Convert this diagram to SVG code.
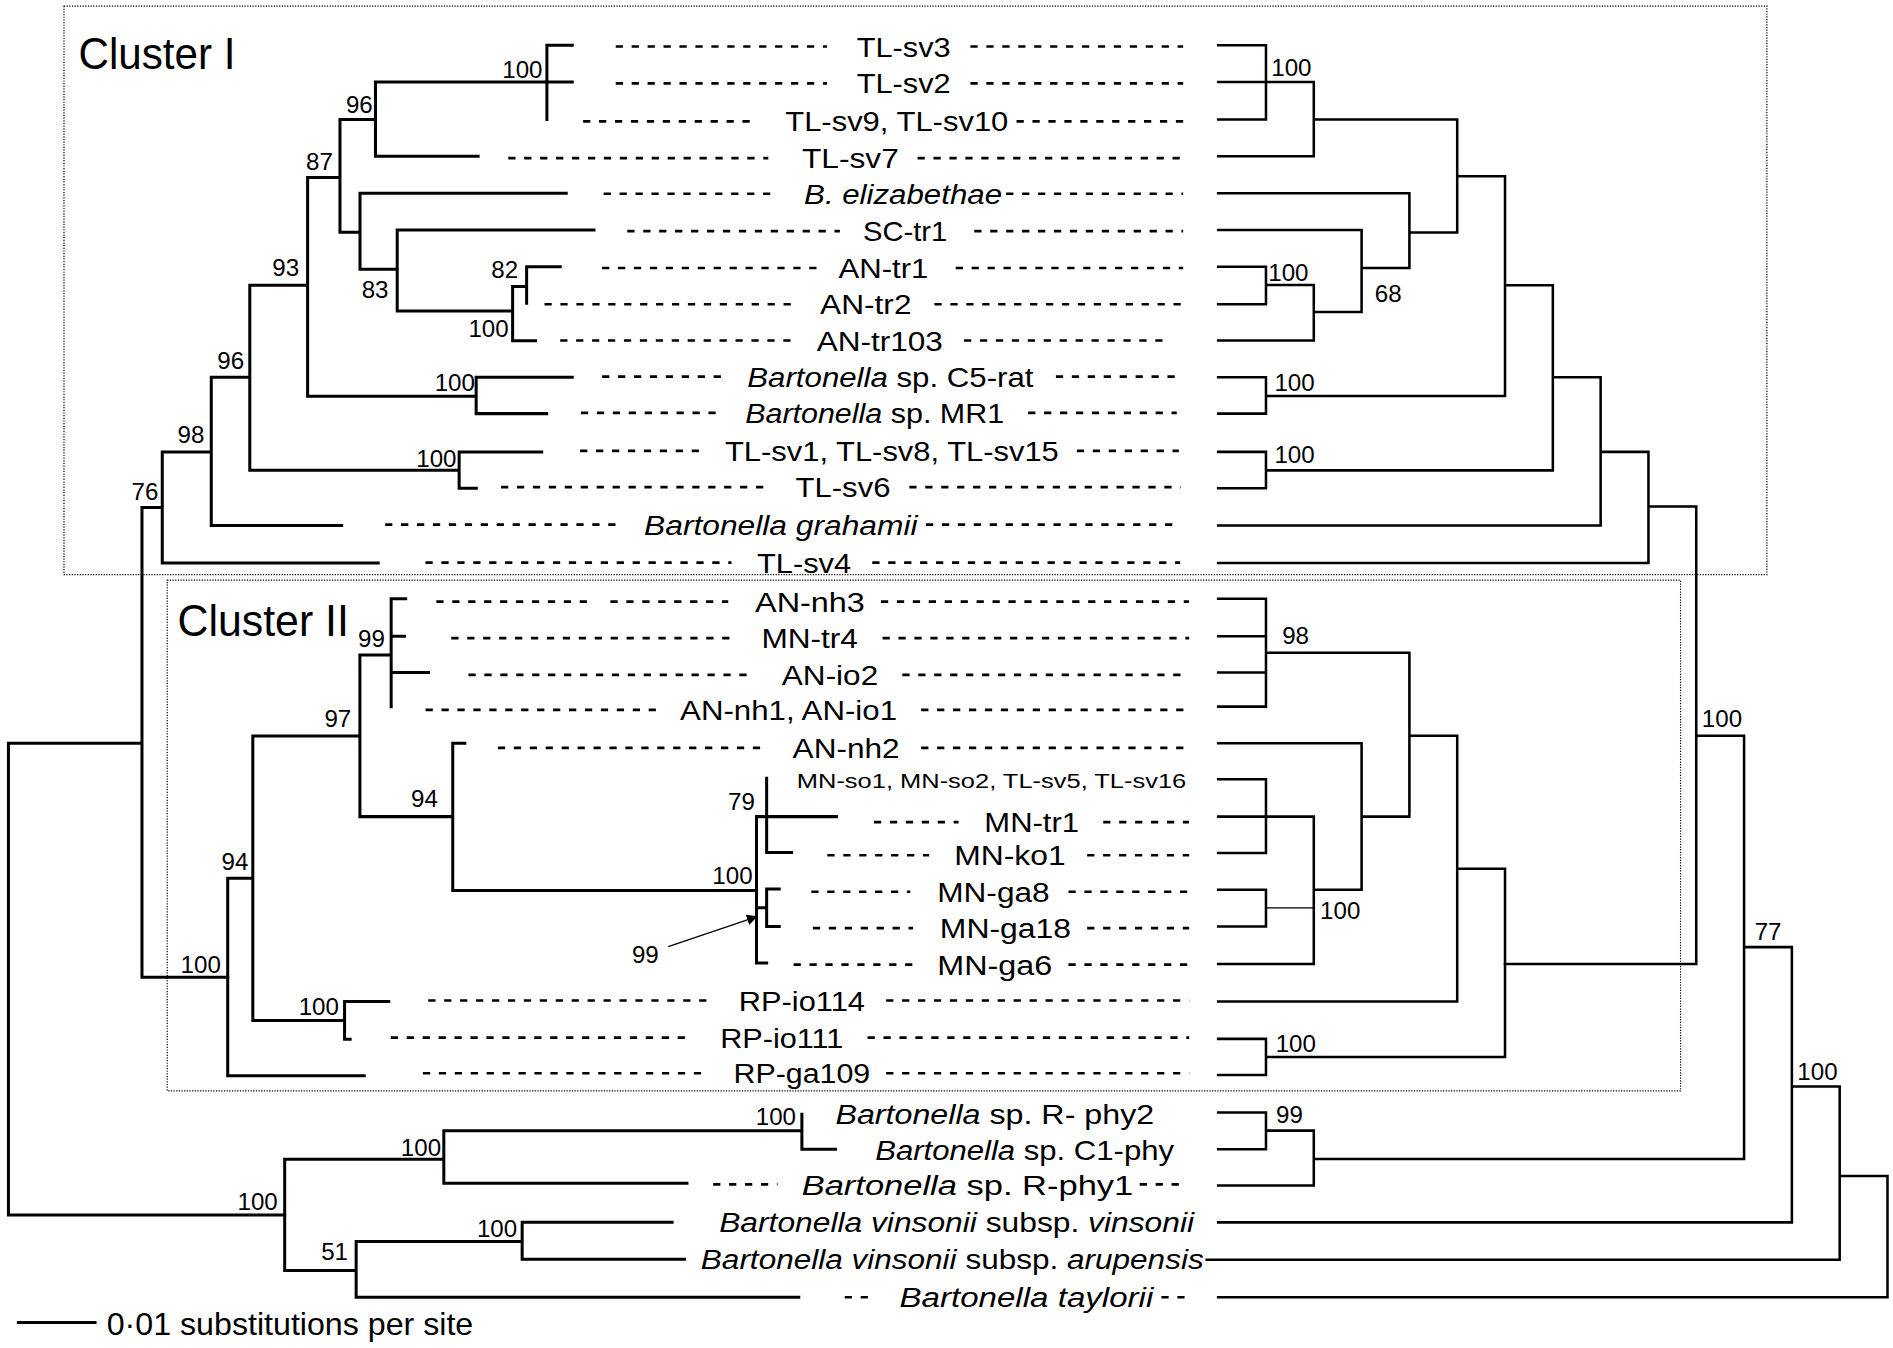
<svg xmlns="http://www.w3.org/2000/svg" width="1893" height="1348" viewBox="0 0 1893 1348">
<style>
.bg{fill:#fff}
.t{fill:none;stroke:#000;stroke-width:2.5;stroke-linecap:square;stroke-linejoin:miter}
.r{fill:none;stroke:#000;stroke-width:2.1;stroke-linecap:square;stroke-linejoin:miter}
.th{fill:none;stroke:#000;stroke-width:1.1}
.d{fill:none;stroke:#000;stroke-width:2.2;stroke-dasharray:6 7.2}
.box{fill:none;stroke:#000;stroke-width:1;stroke-dasharray:1 1.2}
text{font-family:"Liberation Sans",Arial,Helvetica,sans-serif;fill:#000}
.lb{font-size:23.5px}
.sm{font-size:16.5px}
.bs{font-size:20px}
.cl{font-size:37px}
.sc{font-size:26.5px}
.i{font-style:italic}
</style>
<defs>
<marker id="ah" viewBox="0 0 10 10" refX="10" refY="5" markerWidth="9" markerHeight="9" markerUnits="userSpaceOnUse" orient="auto">
<path d="M0,0 L10,5 L0,10 z" fill="#000"/>
</marker>
</defs>
<rect class="bg" x="0" y="0" width="1893" height="1348"/>
<g transform="scale(1.2073)">
<g id="boxes">
<rect class="box" x="53" y="5" width="1410.5" height="471"/>
<rect class="box" x="138.5" y="480.6" width="1253.5" height="423"/>
<text class="cl" x="65" y="57" textLength="130" lengthAdjust="spacingAndGlyphs">Cluster I</text>
<text class="cl" x="147" y="527" textLength="142" lengthAdjust="spacingAndGlyphs">Cluster II</text>
</g>
<g id="connectors">
<path class="t" d="M453,37.5V99M453,37.5H474M311,68H474M311,68V129.5H396M281.6,99H311M281.6,99V192.4H298.2M298.2,160V223H329M298.2,160H469M329,190.5H492M329,190.5V257.6H424.6M424.6,237.4V282.3H443.6M424.6,237.4H436.2M436.2,221V251.2M436.2,221H464M254.8,147.1H281.6M254.8,147.1V328.3H394.4M394.4,312.4V342.6H452.8M394.4,312.4H474M206.9,236.3H254.8M206.9,236.3V389.6H380.3M380.3,374.3V404.4H394.5M380.3,374.3H448.7M175,312.4H206.9M175,312.4V435.2H283M134.4,374.3H175M134.4,374.3V466.3H313.3M117.6,420.3H134.4M117.6,420.3V809.5H188.6M7,615.6H117.6M7,615.6V1006.3H235.8"/>
<path class="t" d="M188.6,727.4V891H301.7M188.6,727.4H209.4M209.4,609.6V845.3H285.4M285.4,829.5V860.8H290M285.4,829.5H322M209.4,609.6H298.1M298.1,542.5V676.4H375M298.1,542.5H324M324,496V585.3M324,496H336M324,527H335M324,557H355M375,615.6V737.6H626.6M375,615.6H385M626.6,676.4V797.7H635M626.6,676.4H692.8M635,644.7V706.2H655.6M626.6,751.8H635M635,736.4V767.5M635,736.4H645.4M635,767.5H645.4"/>
<path class="t" d="M235.8,960.2V1052.4H295M235.8,960.2H367.6M367.6,936.5V980H569M367.6,936.5H664.2M664.2,923V952H692M295,1028.4V1074.5H661.6M295,1028.4H432.5M432.5,1012.4V1043H567M432.5,1012.4H556.7"/>
<path class="r" d="M1009,37.5H1048.6V99H1009M1009,68H1088.2V129.5H1009M1088.2,99H1207M1009,160H1167.4V222M1009,190.5H1127.8V258.5M1127.8,222H1167.4M1009,221H1048.6V252H1009M1048.6,236H1088.2V282H1009M1088.2,258.5H1127.8M1167.4,192.5H1207M1207,99V192.5M1207,146H1246.6V328H1048.6M1009,312.4H1048.6V342.6H1009M1246.6,236.3H1286.2V389.6H1048.6M1009,374.3H1048.6V404.4H1009M1286.2,312.4H1325.8V435.2H1009M1325.8,374.3H1365.4V466.3H1009M1365.4,419.6H1405V798.5H1246.6"/>
<path class="r" d="M1009,496H1048.6V585.3H1009M1009,527H1048.6M1009,557H1048.6M1048.6,540.6H1167.4V676.4H1127.8M1009,615.6H1127.8V737H1088.2M1009,645.5H1048.6V706.6H1009M1009,676.4H1088.2V798.5H1009M1009,737H1048.6V767.5H1009M1167.4,609.5H1207V829.5H1009M1207,719.5H1246.6V875.5H1048.6M1009,860.5H1048.6V890.5H1009"/>
<path class="th" d="M1048.6,752H1088.2"/>
<path class="r" d="M1009,921.5H1048.6V952H1009M1048.6,936.5H1088.2V982H1009M1088.2,960H1444.6V609.5H1405M1444.6,784.5H1484.2V1012.5H1009M1484.2,900H1523.8V1043.5H999.5M1523.8,974H1563.4V1074.5H1009"/>
<line class="th" x1="553.5" y1="784" x2="627.6" y2="759" marker-end="url(#ah)"/>
</g>
<g id="bootstrap">
<text class="bs" x="416" y="65">100</text>
<text class="bs" x="286.5" y="93.6">96</text>
<text class="bs" x="253.5" y="140.8">87</text>
<text class="bs" x="225.6" y="228.4">93</text>
<text class="bs" x="299.6" y="247.1">83</text>
<text class="bs" x="407" y="230.5">82</text>
<text class="bs" x="388" y="278.8">100</text>
<text class="bs" x="360" y="323.5">100</text>
<text class="bs" x="180" y="306">96</text>
<text class="bs" x="344.8" y="387">100</text>
<text class="bs" x="147" y="367.3">98</text>
<text class="bs" x="109" y="414">76</text>
<text class="bs" x="296.6" y="535.6">99</text>
<text class="bs" x="268.7" y="601.8">97</text>
<text class="bs" x="340.5" y="668.6">94</text>
<text class="bs" x="603" y="671">79</text>
<text class="bs" x="590" y="732.6">100</text>
<text class="bs" x="523.4" y="797.6">99</text>
<text class="bs" x="183.5" y="720.5">94</text>
<text class="bs" x="149.6" y="806">100</text>
<text class="bs" x="247.4" y="840.6">100</text>
<text class="bs" x="626" y="931.8">100</text>
<text class="bs" x="332" y="957.5">100</text>
<text class="bs" x="196.7" y="1002">100</text>
<text class="bs" x="266" y="1043.6">51</text>
<text class="bs" x="395" y="1024.3">100</text>
<text class="bs" x="1053" y="62.8">100</text>
<text class="bs" x="1050.5" y="233">100</text>
<text class="bs" x="1138.7" y="250">68</text>
<text class="bs" x="1055.6" y="323.5">100</text>
<text class="bs" x="1055.6" y="383.8">100</text>
<text class="bs" x="1062" y="533.4">98</text>
<text class="bs" x="1093.4" y="761.4">100</text>
<text class="bs" x="1056.6" y="871">100</text>
<text class="bs" x="1409.6" y="601.8">100</text>
<text class="bs" x="1453.4" y="778.5">77</text>
<text class="bs" x="1488.7" y="894.6">100</text>
<text class="bs" x="1057" y="930.4">99</text>
</g>
<g id="tx-TL-sv3"><path class="d" d="M510,38.5H685M803.8,38.5H980"/><text class="lb" x="709.6" y="46.9" textLength="77.8" lengthAdjust="spacingAndGlyphs">TL-sv3</text></g>
<g id="tx-TL-sv2"><path class="d" d="M510,69H685M803.8,69H980"/><text class="lb" x="709.6" y="77.4" textLength="77.8" lengthAdjust="spacingAndGlyphs">TL-sv2</text></g>
<g id="tx-TL-sv9"><path class="d" d="M483,100.5H628M842,100.5H980"/><text class="lb" x="650.4" y="108.9" textLength="184.8" lengthAdjust="spacingAndGlyphs">TL-sv9, TL-sv10</text></g>
<g id="tx-TL-sv7"><path class="d" d="M421,131H636.4M760,131H983"/><text class="lb" x="664.3" y="139.4" textLength="80.2" lengthAdjust="spacingAndGlyphs">TL-sv7</text></g>
<g id="tx-B-elizabethae"><path class="d" d="M500,160.5H643.4M833.4,160.5H980"/><text class="lb i" x="666" y="168.9" textLength="164" lengthAdjust="spacingAndGlyphs">B. elizabethae</text></g>
<g id="tx-SC-tr1"><path class="d" d="M519.6,191.5H695.7M807,191.5H980"/><text class="lb" x="714.9" y="199.9" textLength="69.7" lengthAdjust="spacingAndGlyphs">SC-tr1</text></g>
<g id="tx-AN-tr1"><path class="d" d="M498.7,222H676.5M791.6,222H980"/><text class="lb" x="694.6" y="230.4" textLength="74.4" lengthAdjust="spacingAndGlyphs">AN-tr1</text></g>
<g id="tx-AN-tr2"><path class="d" d="M451,252H657.3M774,252H980"/><text class="lb" x="679.3" y="260.4" textLength="75.7" lengthAdjust="spacingAndGlyphs">AN-tr2</text></g>
<g id="tx-AN-tr103"><path class="d" d="M464,282H655.6M798.5,282H969.4"/><text class="lb" x="676.5" y="290.4" textLength="104.5" lengthAdjust="spacingAndGlyphs">AN-tr103</text></g>
<g id="tx-C5-rat"><path class="d" d="M498.7,312H598M874.6,312H974.7"/><text class="lb" x="619" y="320.4" textLength="237" lengthAdjust="spacingAndGlyphs"><tspan class="i">Bartonella</tspan> sp. C5-rat</text></g>
<g id="tx-MR1"><path class="d" d="M481.2,342H596.3M851.6,342H974.7"/><text class="lb" x="617.2" y="350.4" textLength="214.5" lengthAdjust="spacingAndGlyphs"><tspan class="i">Bartonella</tspan> sp. MR1</text></g>
<g id="tx-TL-sv1"><path class="d" d="M480.5,373.5H580.6M892,373.5H976.4"/><text class="lb" x="600.5" y="381.9" textLength="276.5" lengthAdjust="spacingAndGlyphs">TL-sv1, TL-sv8, TL-sv15</text></g>
<g id="tx-TL-sv6"><path class="d" d="M415,403.5H636.4M753.2,403.5H978"/><text class="lb" x="659" y="411.9" textLength="78.5" lengthAdjust="spacingAndGlyphs">TL-sv6</text></g>
<g id="tx-grahamii"><path class="d" d="M319,434.5H511M767,434.5H976"/><text class="lb i" x="533.5" y="442.9" textLength="226.5" lengthAdjust="spacingAndGlyphs">Bartonella grahamii</text></g>
<g id="tx-TL-sv4"><path class="d" d="M352.4,466H605.9M722.5,466H977.5"/><text class="lb" x="627" y="474.4" textLength="78" lengthAdjust="spacingAndGlyphs">TL-sv4</text></g>
<g id="tx-AN-nh3"><path class="d" d="M361.4,498.3H487.8M505.6,498.3H603.2M729.7,498.3H984.8"/><text class="lb" x="625.4" y="506.7" textLength="91" lengthAdjust="spacingAndGlyphs">AN-nh3</text></g>
<g id="tx-MN-tr4"><path class="d" d="M373.8,528.5H609.9M731,528.5H985"/><text class="lb" x="630.7" y="536.9" textLength="79.9" lengthAdjust="spacingAndGlyphs">MN-tr4</text></g>
<g id="tx-AN-io2"><path class="d" d="M388,559H625.4M747.4,559H985"/><text class="lb" x="647.6" y="567.4" textLength="79.8" lengthAdjust="spacingAndGlyphs">AN-io2</text></g>
<g id="tx-AN-nh1"><path class="d" d="M352.5,588H543.3M763,588H985"/><text class="lb" x="563.3" y="596.4" textLength="179.7" lengthAdjust="spacingAndGlyphs">AN-nh1, AN-io1</text></g>
<g id="tx-AN-nh2"><path class="d" d="M412.4,619.5H634.3M763,619.5H985"/><text class="lb" x="656.5" y="627.9" textLength="88.7" lengthAdjust="spacingAndGlyphs">AN-nh2</text></g>
<g id="tx-MN-so1"><text class="sm" x="660" y="653" textLength="322.6" lengthAdjust="spacingAndGlyphs">MN-so1, MN-so2, TL-sv5, TL-sv16</text></g>
<g id="tx-MN-tr1"><path class="d" d="M723.9,681H794M913.8,681H984.8"/><text class="lb" x="815.3" y="689.4" textLength="78.5" lengthAdjust="spacingAndGlyphs">MN-tr1</text></g>
<g id="tx-MN-ko1"><path class="d" d="M685.3,708.4H769.6M900.5,708.4H985"/><text class="lb" x="790.4" y="716.8" textLength="92.3" lengthAdjust="spacingAndGlyphs">MN-ko1</text></g>
<g id="tx-MN-ga8"><path class="d" d="M672,738.6H754M885,738.6H985"/><text class="lb" x="776.3" y="747" textLength="93.1" lengthAdjust="spacingAndGlyphs">MN-ga8</text></g>
<g id="tx-MN-ga18"><path class="d" d="M673.3,768.8H756.3M900.5,768.8H985"/><text class="lb" x="778.5" y="777.2" textLength="108.7" lengthAdjust="spacingAndGlyphs">MN-ga18</text></g>
<g id="tx-MN-ga6"><path class="d" d="M657.3,799H756.3M885,799H985"/><text class="lb" x="776.3" y="807.4" textLength="95.3" lengthAdjust="spacingAndGlyphs">MN-ga6</text></g>
<g id="tx-RP-io114"><path class="d" d="M354.7,828.7H585.5M734,828.7H985"/><text class="lb" x="612" y="837.1" textLength="104.4" lengthAdjust="spacingAndGlyphs">RP-io114</text></g>
<g id="tx-RP-io111"><path class="d" d="M323.7,859.5H574.4M718.6,859.5H985"/><text class="lb" x="596.5" y="867.9" textLength="102.1" lengthAdjust="spacingAndGlyphs">RP-io111</text></g>
<g id="tx-RP-ga109"><path class="d" d="M350.3,889H584.6M734,889H985"/><text class="lb" x="607.6" y="897.4" textLength="113.2" lengthAdjust="spacingAndGlyphs">RP-ga109</text></g>
<g id="tx-R-phy2"><text class="lb" x="692" y="931.4" textLength="264" lengthAdjust="spacingAndGlyphs"><tspan class="i">Bartonella</tspan> sp. R- phy2</text></g>
<g id="tx-C1-phy"><text class="lb" x="725" y="960.9" textLength="247.4" lengthAdjust="spacingAndGlyphs"><tspan class="i">Bartonella</tspan> sp. C1-phy</text></g>
<g id="tx-R-phy1"><path class="d" d="M590.7,981H644M944,981H983"/><text class="lb" x="664" y="989.4" textLength="274.7" lengthAdjust="spacingAndGlyphs"><tspan class="i">Bartonella</tspan> sp. R-phy1</text></g>
<g id="tx-vinsonii"><text class="lb" x="595.7" y="1020.4" textLength="393.3" lengthAdjust="spacingAndGlyphs"><tspan class="i">Bartonella vinsonii</tspan> subsp. <tspan class="i">vinsonii</tspan></text></g>
<g id="tx-arupensis"><text class="lb" x="580.5" y="1051.4" textLength="416.5" lengthAdjust="spacingAndGlyphs"><tspan class="i">Bartonella vinsonii</tspan> subsp. <tspan class="i">arupensis</tspan></text></g>
<g id="tx-taylorii"><path class="d" d="M699.7,1074.5H725M962,1074.5H984"/><text class="lb i" x="745" y="1082.9" textLength="210.3" lengthAdjust="spacingAndGlyphs">Bartonella taylorii</text></g>
<g id="scale">
<path class="t" d="M15.2,1095.5H78.7"/>
<text class="sc" x="88.4" y="1105.8" textLength="303.6" lengthAdjust="spacingAndGlyphs">0·01 substitutions per site</text>
</g>
</g>
</svg>
